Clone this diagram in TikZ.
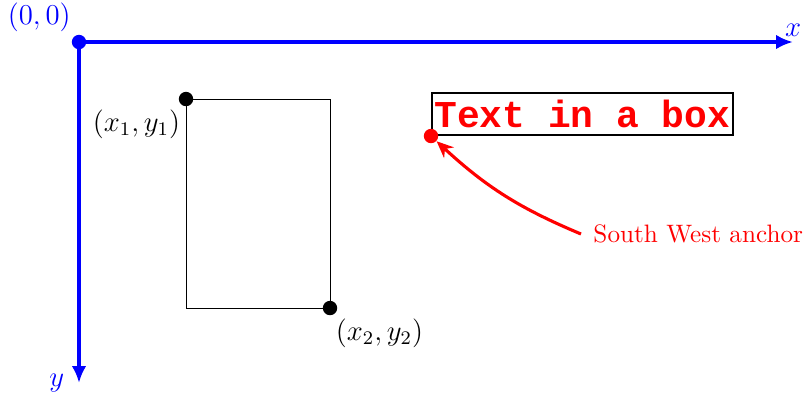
\documentclass[tikz,border=0pt]{standalone}
\usepackage{fontspec}
\setmonofont{Liberation Mono}
\usetikzlibrary{arrows.meta,positioning}

\begin{document}
\begin{tikzpicture}[
  x=0.4167pt, y=-0.4167pt,
  axis/.style={draw=blue, line width=1.7pt, -{Latex[length=7pt, width=6pt]}},
  dot/.style={circle, fill, inner sep=0pt, minimum size=6pt},
  lbl/.style={font=\large, inner sep=2pt},
  tbox/.style={draw, thick, text=red, font=\ttfamily\bfseries\fontsize{15.8}{18}\selectfont,
               inner xsep=1pt, inner ysep=3pt, anchor=south west},
  arr/.style={-{Stealth[length=7pt, width=6pt]}, red, line width=1.3pt}
]
  \useasboundingbox (0,0) rectangle (805,394);
  % axes
  \coordinate (o) at (79,42);
  \coordinate (xend) at (793,42);
  \coordinate (yend) at (79,383);
  \draw[axis] (o) -- (xend);
  \draw[axis] (o) -- (yend);
  \node[dot, blue] (odot) at (o) {};
  \node[lbl, blue, above left=0pt and -1pt of odot] (olbl) {$(0,0)$};
  \node[lbl, blue, above=0pt of xend] (xlbl) {$x$};
  \node[lbl, blue, left=4pt of yend] (ylbl) {$y$};
  % rectangle
  \coordinate (p1) at (186,99);
  \coordinate (p2) at (330,308);
  \draw[thin] (p1) rectangle (p2);
  \node[dot] (d1) at (p1) {};
  \node[dot] (d2) at (p2) {};
  \node[lbl, below left=0pt and -2pt of d1] (l1) {$(x_1,y_1)$};
  \node[lbl, below right=0pt and -2pt of d2] (l2) {$(x_2,y_2)$};
  % box and anchor
  \coordinate (sw) at (431,136);
  \node[tbox] (box) at (sw) {Text in a box};
  \node[dot, red] (swdot) at (sw) {};
  \node[red, font=\fontsize{10.5}{12}\selectfont, anchor=west, inner sep=0pt] (swlbl) at (593,234) {South West anchor};
  \path (swlbl.west) ++(-12,0) coordinate (swstart);
  \draw[arr] (swstart) to[bend left=10] (swdot);
\end{tikzpicture}
\end{document}
